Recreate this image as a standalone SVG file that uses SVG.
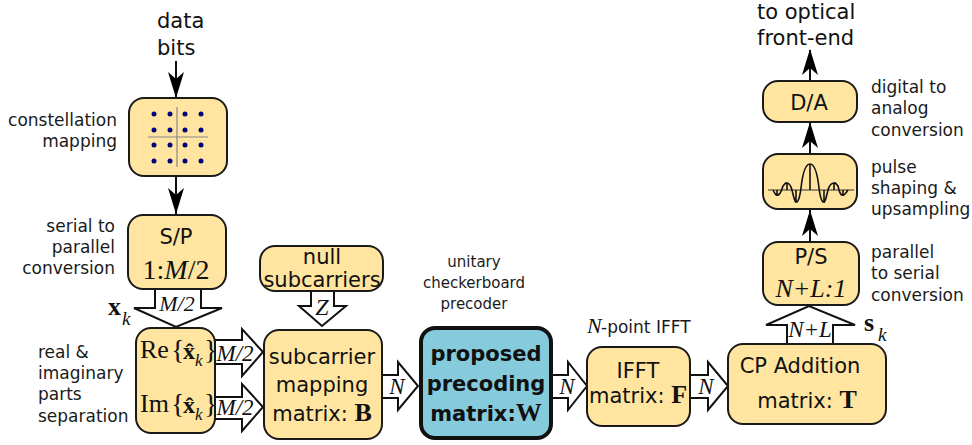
<svg xmlns="http://www.w3.org/2000/svg" width="972" height="445" viewBox="0 0 972 445">
<style>
.b{fill:#ffe5a0;stroke:#1a1a1a;stroke-width:2}
.s{font-family:"DejaVu Sans",sans-serif;font-size:17px;fill:#1a1a1a}
.n{font-family:"DejaVu Sans",sans-serif;font-size:21px;fill:#111;text-anchor:middle}
.m{font-family:"Liberation Serif",serif;fill:#111}
.i{font-style:italic}
.k{font-weight:bold}
.a{fill:#fff;stroke:#111;stroke-width:2;stroke-linejoin:miter}
.l{stroke:#111;stroke-width:2;fill:none}
.h{fill:#000}
.c{fill:#000080}
.g{stroke:#888;stroke-width:1.2}
</style>
<defs>
<path id="ah" class="h" d="M0 0L8 -26L0 -19L-8 -26Z"/>
<path id="au" class="h" d="M0 0L8 26L0 19L-8 26Z"/>
</defs>
<g id="connectors">
<path class="l" d="M176 61V98M176 176V214M810 209V242M810 122V154M810 50V81"/>
<use href="#ah" x="176" y="98"/>
<use href="#ah" x="176" y="214"/>
<use href="#au" x="810" y="210"/>
<use href="#au" x="810" y="122"/>
<use href="#au" x="810" y="49"/>
<polygon class="a" points="155,289 201,289 201,308 222,308 176,327 134,308 155,308"/>
<polygon class="a" points="311,291 334,291 334,306 346,306 322,326 299,306 311,306"/>
<polygon class="a" points="215,340 242,340 242,329 263,352 242,376 242,364 215,364"/>
<polygon class="a" points="215,397 242,397 242,384 263,407 242,431 242,419 215,419"/>
<polygon class="a" points="382,375 398,375 398,362 418,386 398,410 398,398 382,398"/>
<polygon class="a" points="551,375 568,375 568,362 587,386 568,410 568,398 551,398"/>
<polygon class="a" points="690,375 708,375 708,362 728,386 708,410 708,398 690,398"/>
<polygon class="a" points="787,344 787,325 766,325 809,306 855,325 833,325 833,344"/>
</g>
<g id="constellation">
<rect class="b" x="129" y="98" width="98" height="78" rx="15"/>
<path class="g" d="M148 137H208M177 107V167"/>
<g class="c">
<circle cx="154" cy="114" r="2.5"/><circle cx="170" cy="114" r="2.5"/><circle cx="185" cy="114" r="2.5"/><circle cx="201" cy="114" r="2.5"/>
<circle cx="154" cy="130" r="2.5"/><circle cx="170" cy="130" r="2.5"/><circle cx="185" cy="130" r="2.5"/><circle cx="201" cy="130" r="2.5"/>
<circle cx="154" cy="145" r="2.5"/><circle cx="170" cy="145" r="2.5"/><circle cx="185" cy="145" r="2.5"/><circle cx="201" cy="145" r="2.5"/>
<circle cx="154" cy="161" r="2.5"/><circle cx="170" cy="161" r="2.5"/><circle cx="185" cy="161" r="2.5"/><circle cx="201" cy="161" r="2.5"/>
</g>
</g>
<g id="sp">
<rect class="b" x="128" y="215" width="98" height="74" rx="15"/>
<text class="n" x="176" y="244">S/P</text>
<text class="m" x="176" y="279" font-size="28" text-anchor="middle">1:<tspan class="i">M</tspan>/2</text>
</g>
<g id="null">
<rect class="b" x="260" y="246" width="123" height="45" rx="15"/>
<text class="n" x="322" y="264">null</text>
<text class="n" x="322" y="287">subcarriers</text>
</g>
<g id="reim">
<rect class="b" x="136" y="328" width="79" height="105" rx="15"/>
<text class="m" x="140" y="358" font-size="26">Re</text>
<text class="m" x="140" y="412" font-size="26">Im</text>
<text class="m" x="171" y="359" font-size="28">{</text>
<text class="m" x="171" y="413" font-size="28">{</text>
<text class="m k" x="183" y="359" font-size="24">x̂</text>
<text class="m k" x="183" y="413" font-size="24">x̂</text>
<text class="m i" x="195" y="366" font-size="17">k</text>
<text class="m i" x="195" y="420" font-size="17">k</text>
<text class="m" x="204" y="359" font-size="28">}</text>
<text class="m" x="204" y="413" font-size="28">}</text>
</g>
<g id="subcarrier">
<rect class="b" x="264" y="330" width="118" height="109" rx="15"/>
<text class="n" x="322" y="364">subcarrier</text>
<text class="n" x="322" y="392">mapping</text>
<text class="n" x="322" y="421">matrix: <tspan class="m k" font-size="26">B</tspan></text>
</g>
<g id="precoder">
<rect x="421" y="328" width="130" height="110" rx="14" fill="#85cbdc" stroke="#111" stroke-width="4"/>
<text class="n k" x="486" y="361">proposed</text>
<text class="n k" x="486" y="391">precoding</text>
<text class="n k" x="486" y="421">matrix:<tspan class="m" font-size="26">W</tspan></text>
</g>
<g id="ifft">
<rect class="b" x="587" y="347" width="103" height="79" rx="15"/>
<text class="n" x="638" y="378">IFFT</text>
<text class="n" x="638" y="403">matrix: <tspan class="m k" font-size="26">F</tspan></text>
</g>
<g id="cp">
<rect class="b" x="728" y="344" width="158" height="80" rx="15"/>
<text class="n" x="800" y="373">CP Addition</text>
<text class="n" x="807" y="408">matrix: <tspan class="m k" font-size="26">T</tspan></text>
</g>
<g id="ps">
<rect class="b" x="763" y="242" width="96" height="63" rx="15"/>
<text class="n" x="811" y="264">P/S</text>
<text class="m i" x="811" y="297" font-size="26" text-anchor="middle">N+L:1</text>
</g>
<g id="pulse">
<rect class="b" x="763" y="154" width="94" height="55" rx="15"/>
<path d="M768 190H854" stroke="#333" stroke-width="1" fill="none"/>
<path class="l" style="stroke-width:1.6" d="M773 190Q776 196 777 195Q780 196 783 186Q786 182 787 183Q790 183 792 190Q795 203 796 202Q799 203 801 188C803 170 806 164 810 164C814 164 817 170 819 188Q821 203 824 202Q825 203 828 190Q830 183 834 183Q835 182 838 186Q840 196 843 195Q844 196 848 190M810 164V190M787 183V190M796 190V202M824 190V202M834 183V190M777 190V195M843 190V195"/>
</g>
<g id="da">
<rect class="b" x="763" y="81" width="94" height="41" rx="15"/>
<text class="n" x="809" y="110">D/A</text>
</g>
<g id="labels">
<text class="n" x="157" y="28" text-anchor="start" style="text-anchor:start">data</text>
<text class="n" x="157" y="55" style="text-anchor:start">bits</text>
<text class="s" x="117" y="126" text-anchor="end">constellation</text>
<text class="s" x="117" y="147" text-anchor="end">mapping</text>
<text class="s" x="115" y="232" text-anchor="end">serial to</text>
<text class="s" x="115" y="253" text-anchor="end">parallel</text>
<text class="s" x="115" y="274" text-anchor="end">conversion</text>
<text class="s" x="38" y="358">real &amp;</text>
<text class="s" x="38" y="379">imaginary</text>
<text class="s" x="38" y="400">parts</text>
<text class="s" x="38" y="422">separation</text>
<text class="s" x="474" y="267" text-anchor="middle" style="font-size:15px">unitary</text>
<text class="s" x="474" y="288" text-anchor="middle" style="font-size:15px">checkerboard</text>
<text class="s" x="474" y="309" text-anchor="middle" style="font-size:15px">precoder</text>
<text class="m i" x="587" y="333" font-size="22">N</text>
<text class="s" x="601" y="333">-point IFFT</text>
<text class="s" x="871" y="93">digital to</text>
<text class="s" x="871" y="114">analog</text>
<text class="s" x="871" y="136">conversion</text>
<text class="s" x="871" y="173">pulse</text>
<text class="s" x="871" y="194">shaping &amp;</text>
<text class="s" x="871" y="215">upsampling</text>
<text class="s" x="871" y="258">parallel</text>
<text class="s" x="871" y="279">to serial</text>
<text class="s" x="871" y="301">conversion</text>
<text class="n" x="757" y="19" style="text-anchor:start">to optical</text>
<text class="n" x="757" y="45" style="text-anchor:start">front-end</text>
<text class="m k" x="108" y="315" font-size="26">x</text>
<text class="m i" x="122" y="325" font-size="19">k</text>
<text class="m k" x="864" y="331" font-size="26">s</text>
<text class="m i" x="878" y="341" font-size="19">k</text>
<text class="m i" x="177" y="311" font-size="22" text-anchor="middle">M/2</text>
<text class="m i" x="322" y="315" font-size="24" text-anchor="middle">Z</text>
<text class="m i" x="235" y="361" font-size="23" text-anchor="middle">M/2</text>
<text class="m i" x="235" y="415" font-size="23" text-anchor="middle">M/2</text>
<text class="m i" x="397" y="394" font-size="23" text-anchor="middle">N</text>
<text class="m i" x="567" y="394" font-size="23" text-anchor="middle">N</text>
<text class="m i" x="706" y="394" font-size="23" text-anchor="middle">N</text>
<text class="m i" x="810" y="337" font-size="23" text-anchor="middle">N+L</text>
</g>
</svg>
